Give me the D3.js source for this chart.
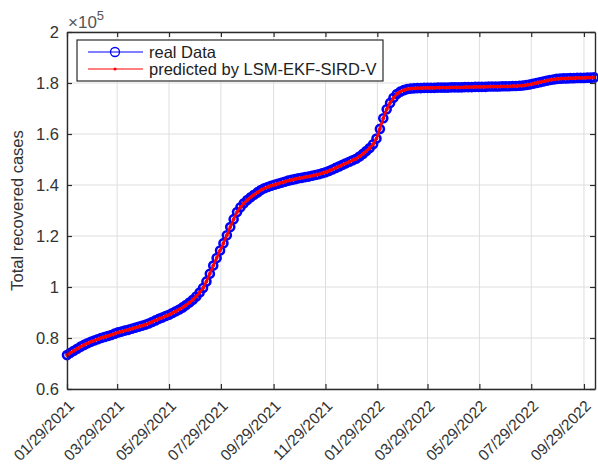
<!DOCTYPE html>
<html>
<head>
<meta charset="utf-8">
<script src="https://cdn.jsdelivr.net/npm/d3@7"></script>
<style>
  body { margin: 0; background: #fff; }
  text { font-family: "Liberation Sans", Arial, Helvetica, sans-serif; }
</style>
</head>
<body>
<svg id="chart" width="598" height="466"></svg>
<script>
// Sampling of the series: one value every 4 days starting on the first date
const startDate = "01/29/2021";
const endDate = "10/12/2022";
const stepDays = 4;

// Total recovered cases (×10^5), reported
const recoveredCases = [
  0.733,0.742,0.750,0.758,0.766,0.773,0.779,0.785,0.790,0.795,0.800,0.804,0.808,0.812,0.817,0.822,
  0.825,0.829,0.832,0.836,0.840,0.844,0.848,0.852,0.857,0.863,0.869,0.875,0.880,0.886,0.891,0.898,
  0.905,0.912,0.920,0.929,0.939,0.950,0.963,0.978,0.996,1.022,1.052,1.084,1.114,1.143,1.172,1.203,
  1.235,1.266,1.294,1.313,1.328,1.341,1.352,1.362,1.371,1.380,1.387,1.392,1.397,1.401,1.405,1.409,
  1.413,1.417,1.420,1.423,1.426,1.428,1.431,1.433,1.436,1.439,1.442,1.446,1.450,1.455,1.461,1.467,
  1.473,1.479,1.485,1.491,1.497,1.503,1.512,1.522,1.533,1.545,1.560,1.582,1.620,1.662,1.697,1.722,
  1.742,1.757,1.766,1.772,1.776,1.778,1.779,1.780,1.780,1.781,1.781,1.781,1.781,1.782,1.782,1.782,
  1.782,1.783,1.783,1.783,1.783,1.784,1.784,1.784,1.785,1.785,1.785,1.785,1.786,1.786,1.786,1.786,
  1.787,1.787,1.787,1.788,1.788,1.789,1.790,1.792,1.794,1.797,1.800,1.803,1.806,1.809,1.812,1.814,
  1.816,1.817,1.818,1.818,1.819,1.819,1.820,1.820,1.820,1.821,1.821,1.822
];

// Total recovered cases (×10^5), LSM-EKF-SIRD-V estimate
const predictedCases = [
  0.733,0.742,0.750,0.758,0.766,0.773,0.779,0.785,0.790,0.795,0.800,0.804,0.808,0.812,0.817,0.822,
  0.825,0.829,0.832,0.836,0.840,0.844,0.848,0.852,0.857,0.863,0.869,0.875,0.880,0.886,0.891,0.898,
  0.905,0.912,0.920,0.929,0.939,0.950,0.963,0.978,0.996,1.022,1.052,1.084,1.114,1.143,1.172,1.203,
  1.235,1.266,1.294,1.313,1.328,1.341,1.352,1.362,1.371,1.380,1.387,1.392,1.397,1.401,1.405,1.409,
  1.413,1.417,1.420,1.423,1.426,1.428,1.431,1.433,1.436,1.439,1.442,1.446,1.450,1.455,1.461,1.467,
  1.473,1.479,1.485,1.491,1.497,1.503,1.512,1.522,1.533,1.545,1.560,1.582,1.620,1.662,1.697,1.722,
  1.742,1.757,1.766,1.772,1.776,1.778,1.779,1.780,1.780,1.781,1.781,1.781,1.781,1.782,1.782,1.782,
  1.782,1.783,1.783,1.783,1.783,1.784,1.784,1.784,1.785,1.785,1.785,1.785,1.786,1.786,1.786,1.786,
  1.787,1.787,1.787,1.788,1.788,1.789,1.790,1.792,1.794,1.797,1.800,1.803,1.806,1.809,1.812,1.814,
  1.816,1.817,1.818,1.818,1.819,1.819,1.820,1.820,1.820,1.821,1.821,1.822
];

const xTickLabels = [
  "01/29/2021","03/29/2021","05/29/2021","07/29/2021","09/29/2021","11/29/2021",
  "01/29/2022","03/29/2022","05/29/2022","07/29/2022","09/29/2022"
];
const yTicks = [0.6, 0.8, 1, 1.2, 1.4, 1.6, 1.8, 2];
const seriesNames = ["real Data", "predicted by LSM-EKF-SIRD-V"];
const yLabel = "Total recovered cases";

// ---- drawing ----
const parse = d3.timeParse("%m/%d/%Y");
const t0 = parse(startDate), t1 = parse(endDate);
const dates = recoveredCases.map((_, i) => d3.timeDay.offset(t0, i * stepDays));
const tickDates = xTickLabels.map(parse);

const plotLeft = 67, plotRight = 595, plotTop = 32, plotBottom = 389;
const x = d3.scaleTime().domain([t0, t1]).range([plotLeft, plotRight]);
const y = d3.scaleLinear().domain([0.6, 2]).range([plotBottom, plotTop]);

const svg = d3.select("#chart");
const axisColor = "#2b2b2b";
const textColor = "#333";

// grid
const grid = svg.append("g");
grid.selectAll("line.gx").data(tickDates).join("line")
  .attr("x1", d => x(d)).attr("x2", d => x(d))
  .attr("y1", plotTop).attr("y2", plotBottom)
  .attr("stroke", "#dedede").attr("stroke-width", 1);
grid.selectAll("line.gy").data(yTicks).join("line")
  .attr("x1", plotLeft).attr("x2", plotRight)
  .attr("y1", d => y(d)).attr("y2", d => y(d))
  .attr("stroke", "#dedede").attr("stroke-width", 1);

// real data: blue line with open circle markers (dense, so they merge into a band)
const rows = dates.map((d, i) => ({ d, real: recoveredCases[i], pred: predictedCases[i] }));
svg.append("path").datum(rows)
  .attr("fill", "none").attr("stroke", "#0000ff").attr("stroke-width", 1.2)
  .attr("d", d3.line().x(r => x(r.d)).y(r => y(r.real)));
svg.append("g").selectAll("circle").data(rows).join("circle")
  .attr("cx", r => x(r.d)).attr("cy", r => y(r.real)).attr("r", 4)
  .attr("fill", "none").attr("stroke", "#0000ff").attr("stroke-width", 2.6);

// predicted: red line with dot markers
svg.append("path").datum(rows)
  .attr("fill", "none").attr("stroke", "#ff0000").attr("stroke-width", 2.6)
  .attr("d", d3.line().x(r => x(r.d)).y(r => y(r.pred)));
svg.append("g").selectAll("circle").data(rows).join("circle")
  .attr("cx", r => x(r.d)).attr("cy", r => y(r.pred)).attr("r", 1.9)
  .attr("fill", "#ff0000");

// axes (bottom / left, plus top / right as a box) with inward ticks
const styleAxis = g => {
  g.select(".domain").attr("stroke", axisColor).attr("stroke-width", 1.4);
  g.selectAll(".tick line").attr("stroke", axisColor).attr("stroke-width", 1.2);
};
svg.append("g").attr("transform", `translate(0,${plotBottom})`)
  .call(d3.axisBottom(x).tickValues(tickDates).tickSizeInner(-5).tickSizeOuter(0).tickFormat(""))
  .call(styleAxis);
svg.append("g").attr("transform", `translate(0,${plotTop})`)
  .call(d3.axisTop(x).tickValues(tickDates).tickSizeInner(-5).tickSizeOuter(0).tickFormat(""))
  .call(styleAxis);
svg.append("g").attr("transform", `translate(${plotLeft},0)`)
  .call(d3.axisLeft(y).tickValues(yTicks).tickSizeInner(-5).tickSizeOuter(0).tickFormat(""))
  .call(styleAxis);
svg.append("g").attr("transform", `translate(${plotRight},0)`)
  .call(d3.axisRight(y).tickValues(yTicks).tickSizeInner(-5).tickSizeOuter(0).tickFormat(""))
  .call(styleAxis);

// y tick labels
svg.append("g").selectAll("text").data(yTicks).join("text")
  .attr("x", plotLeft - 8).attr("y", d => y(d)).attr("dy", "0.36em")
  .attr("text-anchor", "end").attr("font-size", 16.5).attr("fill", textColor)
  .text(d => String(d));

// x tick labels, rotated
svg.append("g").selectAll("text").data(tickDates).join("text")
  .attr("transform", d => `translate(${x(d) + 8},${plotBottom + 18}) rotate(-45)`)
  .attr("text-anchor", "end").attr("font-size", 15.5).attr("fill", textColor)
  .text((d, i) => xTickLabels[i]);

// exponent label
const expo = svg.append("text").attr("x", plotLeft + 1).attr("y", plotTop - 4)
  .attr("font-size", 17).attr("fill", "#555");
expo.append("tspan").text("×10");
expo.append("tspan").attr("dy", -8).attr("font-size", 13).text("5");

// y axis title
svg.append("text")
  .attr("transform", `translate(23,${(plotTop + plotBottom) / 2}) rotate(-90)`)
  .attr("text-anchor", "middle").attr("font-size", 16.5).attr("fill", textColor)
  .text(yLabel);

// legend
const lg = svg.append("g");
lg.append("rect").attr("x", 77).attr("y", 40).attr("width", 306).attr("height", 41)
  .attr("fill", "#fff").attr("stroke", axisColor).attr("stroke-width", 1.2);
lg.append("line").attr("x1", 88).attr("x2", 143).attr("y1", 52).attr("y2", 52)
  .attr("stroke", "#0000ff").attr("stroke-width", 1.2);
lg.append("circle").attr("cx", 115).attr("cy", 52).attr("r", 4.5)
  .attr("fill", "none").attr("stroke", "#0000ff").attr("stroke-width", 1.3);
lg.append("line").attr("x1", 88).attr("x2", 143).attr("y1", 69).attr("y2", 69)
  .attr("stroke", "#ff0000").attr("stroke-width", 1.2);
lg.append("circle").attr("cx", 115).attr("cy", 69).attr("r", 1.5).attr("fill", "#ff0000");
lg.selectAll("text").data(seriesNames).join("text")
  .attr("x", 149).attr("y", (d, i) => 52 + i * 17).attr("dy", "0.36em")
  .attr("font-size", 16.5).attr("fill", "#222").text(d => d);
</script>
</body>
</html>
